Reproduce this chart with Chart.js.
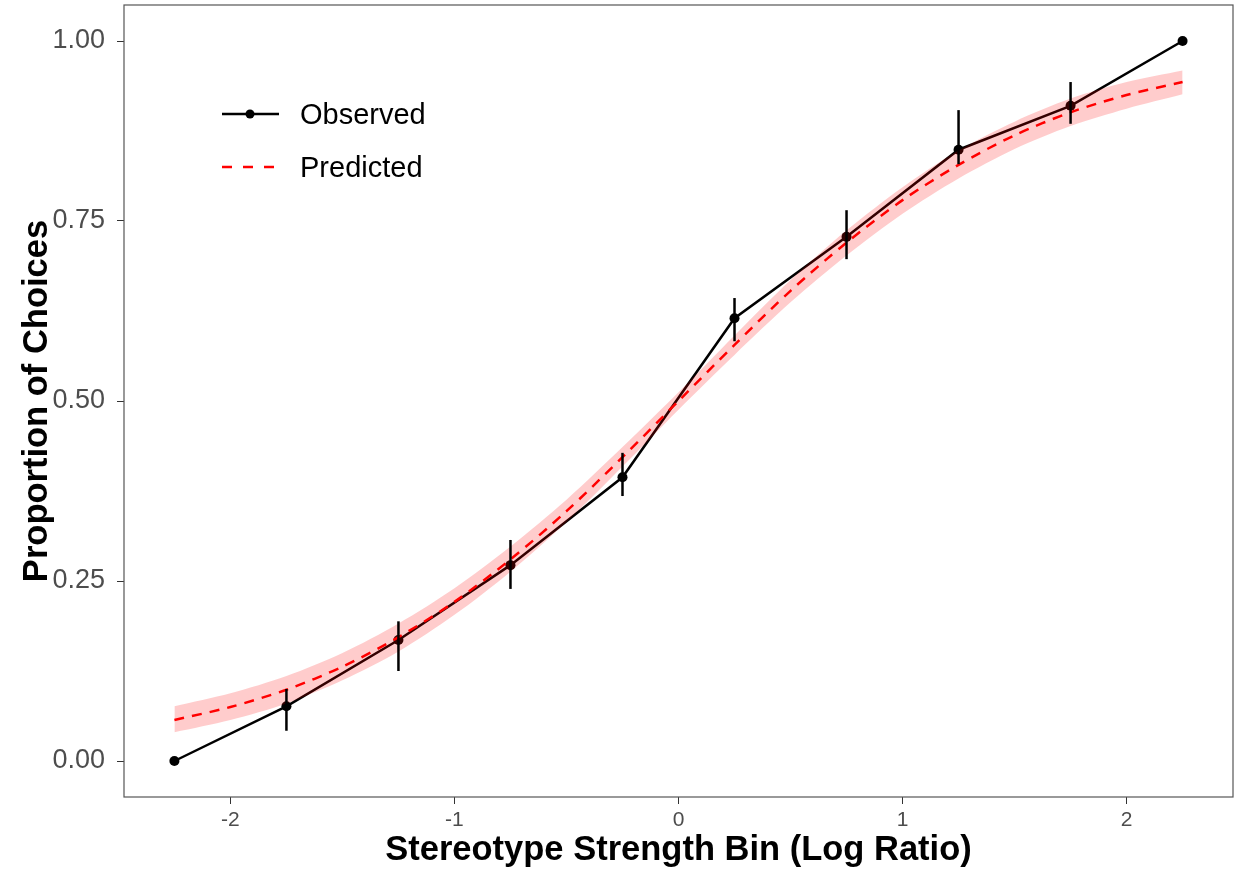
<!DOCTYPE html>
<html>
<head>
<meta charset="utf-8">
<script src="https://cdn.jsdelivr.net/npm/chart.js@4/dist/chart.umd.min.js"></script>
<style>
  html, body { margin: 0; padding: 0; background: #fff; }
  #wrap { width: 1238px; height: 871px; position: relative; }
</style>
</head>
<body>
<div id="wrap"><canvas id="fitChart"></canvas></div>
<script>
// observed bins
const binX = [-2.25, -1.75, -1.25, -0.75, -0.25, 0.25, 0.75, 1.25, 1.75, 2.25];
const observed = [0.0, 0.076, 0.168, 0.272, 0.394, 0.615, 0.728, 0.849, 0.910, 1.0];
const errLow  = [null, 0.042, 0.125, 0.239, 0.368, 0.583, 0.697, 0.829, 0.885, null];
const errHigh = [null, 0.100, 0.194, 0.307, 0.428, 0.643, 0.765, 0.904, 0.943, null];

// predicted curve and its band
const curveX = [-2.25, -2.0, -1.75, -1.5, -1.25, -1.0, -0.75, -0.5, -0.25, 0, 0.25, 0.5, 0.75, 1.0, 1.25, 1.5, 1.75, 2.0, 2.25];
const predicted = [0.057, 0.075, 0.099, 0.131, 0.172, 0.221, 0.280, 0.347, 0.422, 0.500, 0.578, 0.653, 0.720, 0.779, 0.828, 0.869, 0.901, 0.925, 0.943];
const bandLow  = [0.040, 0.057, 0.080, 0.112, 0.152, 0.203, 0.263, 0.332, 0.409, 0.488, 0.564, 0.637, 0.702, 0.760, 0.809, 0.850, 0.882, 0.906, 0.926];
const bandHigh = [0.076, 0.094, 0.118, 0.150, 0.191, 0.240, 0.298, 0.363, 0.436, 0.512, 0.591, 0.668, 0.737, 0.797, 0.848, 0.888, 0.920, 0.943, 0.959];

const xTicks = [-2, -1, 0, 1, 2];
const yTicks = [0, 0.25, 0.5, 0.75, 1];

const pts = (xs, ys) => xs.map((x, i) => ({ x: x, y: ys[i] }));
const FONT = "'Liberation Sans', Arial, sans-serif";

// error bars, panel border and legend
const extras = {
    id: "extras",
    afterDatasetsDraw(chart) {
        const ctx = chart.ctx;
        const xs = chart.scales.x, ys = chart.scales.y;
        ctx.save();
        ctx.strokeStyle = "#000";
        ctx.lineWidth = 2.5;
        binX.forEach((x, i) => {
            if (errLow[i] == null) return;
            const px = xs.getPixelForValue(x);
            ctx.beginPath();
            ctx.moveTo(px, ys.getPixelForValue(errLow[i]));
            ctx.lineTo(px, ys.getPixelForValue(errHigh[i]));
            ctx.stroke();
        });
        ctx.restore();
    },
    afterDraw(chart) {
        const ctx = chart.ctx;
        const a = chart.chartArea;
        ctx.save();
        ctx.strokeStyle = "#555";
        ctx.lineWidth = 1.2;
        ctx.strokeRect(a.left, a.top, a.right - a.left, a.bottom - a.top);

        // legend
        ctx.lineWidth = 2.5;
        ctx.strokeStyle = "#000";
        ctx.beginPath(); ctx.moveTo(222, 114); ctx.lineTo(279, 114); ctx.stroke();
        ctx.fillStyle = "#000";
        ctx.beginPath(); ctx.arc(250, 114, 4.5, 0, Math.PI * 2); ctx.fill();
        ctx.strokeStyle = "#f00";
        ctx.setLineDash([10, 11]);
        ctx.beginPath(); ctx.moveTo(222, 167); ctx.lineTo(279, 167); ctx.stroke();
        ctx.setLineDash([]);
        ctx.font = "29px " + FONT;
        ctx.textBaseline = "middle";
        ctx.textAlign = "left";
        ctx.fillText("Observed", 300, 116);
        ctx.fillText("Predicted", 300, 169);
        ctx.restore();
    }
};

new Chart(document.getElementById("fitChart").getContext("2d"), {
    type: "line",
    data: {
        datasets: [
            {
                label: "band low",
                data: pts(curveX, bandLow),
                borderWidth: 0,
                pointRadius: 0,
                fill: false,
                tension: 0.3
            },
            {
                label: "band high",
                data: pts(curveX, bandHigh),
                borderWidth: 0,
                pointRadius: 0,
                backgroundColor: "rgba(255,0,0,0.2)",
                fill: "-1",
                tension: 0.3
            },
            {
                label: "Predicted",
                data: pts(curveX, predicted),
                borderColor: "#ff0000",
                borderWidth: 2.5,
                borderDash: [10, 8],
                pointRadius: 0,
                fill: false,
                tension: 0.3
            },
            {
                label: "Observed",
                data: pts(binX, observed),
                borderColor: "#000",
                backgroundColor: "#000",
                borderWidth: 2.5,
                pointRadius: 5,
                pointBorderWidth: 0,
                fill: false,
                tension: 0
            }
        ]
    },
    options: {
        responsive: true,
        maintainAspectRatio: false,
        animation: false,
        layout: { padding: { top: 5, right: 5, left: 0, bottom: 0 } },
        plugins: {
            legend: { display: false },
            tooltip: { enabled: false }
        },
        scales: {
            x: {
                type: "linear",
                min: -2.475,
                max: 2.475,
                afterBuildTicks: s => { s.ticks = xTicks.map(v => ({ value: v })); },
                afterFit: s => { s.height = 74; s.paddingLeft = 0; s.paddingRight = 0; },
                grid: { drawOnChartArea: false, drawTicks: true, tickLength: 7, tickColor: "#333", color: "#333" },
                border: { display: false },
                ticks: {
                    color: "#4d4d4d",
                    font: { family: FONT, size: 21 },
                    padding: 4,
                    maxRotation: 0,
                    callback: v => String(v)
                },
                title: {
                    display: true,
                    text: "Stereotype Strength Bin (Log Ratio)",
                    color: "#000",
                    font: { family: FONT, size: 34.5, weight: "bold" },
                    padding: { top: 0, bottom: 0 }
                }
            },
            y: {
                min: -0.05,
                max: 1.05,
                afterBuildTicks: s => { s.ticks = yTicks.map(v => ({ value: v })); },
                afterFit: s => { s.width = 124; s.paddingTop = 0; s.paddingBottom = 0; },
                grid: { drawOnChartArea: false, drawTicks: true, tickLength: 7, tickColor: "#333", color: "#333" },
                border: { display: false },
                ticks: {
                    color: "#4d4d4d",
                    font: { family: FONT, size: 27 },
                    padding: 12,
                    callback: v => Number(v).toFixed(2)
                },
                title: {
                    display: true,
                    text: "Proportion of Choices",
                    color: "#000",
                    font: { family: FONT, size: 34.5, weight: "bold" },
                    padding: { top: 17, bottom: 0 }
                }
            }
        }
    },
    plugins: [extras]
});
</script>
</body>
</html>
